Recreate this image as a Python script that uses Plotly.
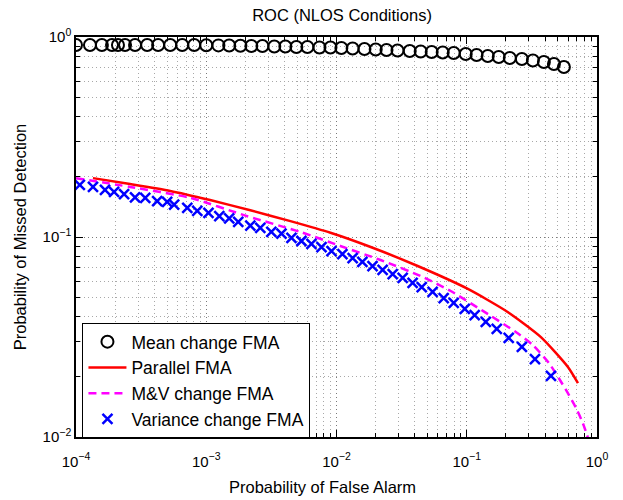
import plotly.graph_objects as go

# ---- data ----
mean_pfa = [1.00e-4, 1.28e-4, 1.58e-4, 1.89e-4, 2.10e-4, 2.38e-4, 2.84e-4, 3.52e-4, 4.27e-4,
            5.29e-4, 6.54e-4, 8.08e-4, 1.00e-3, 1.24e-3, 1.50e-3, 1.83e-3, 2.22e-3, 2.70e-3,
            3.33e-3, 4.05e-3, 4.92e-3, 5.98e-3, 7.40e-3, 8.99e-3, 1.09e-2, 1.33e-2, 1.64e-2,
            2.00e-2, 2.42e-2, 2.94e-2, 3.65e-2, 4.43e-2, 5.38e-2, 6.54e-2, 7.94e-2, 9.82e-2,
            0.119, 0.145, 0.176, 0.214, 0.265, 0.322, 0.391, 0.467, 0.557]
mean_pmd = [0.912, 0.912, 0.912, 0.912, 0.912, 0.912, 0.912, 0.912, 0.912,
            0.912, 0.912, 0.912, 0.910, 0.908, 0.906, 0.904, 0.901, 0.901,
            0.897, 0.897, 0.891, 0.891, 0.886, 0.886, 0.881, 0.876, 0.871,
            0.866, 0.861, 0.856, 0.851, 0.846, 0.841, 0.837, 0.832, 0.822,
            0.813, 0.804, 0.794, 0.785, 0.776, 0.763, 0.750, 0.733, 0.708]

par_pfa = [1.35e-4, 2.60e-4, 5.29e-4, 1.07e-3, 2.18e-3, 4.43e-3, 8.99e-3, 1.83e-2,
           4.20e-2, 0.102, 0.206, 0.371, 0.598, 0.714]
par_pmd = [0.197, 0.184, 0.170, 0.153, 0.136, 0.120, 0.105, 0.0891,
           0.0716, 0.0550, 0.0422, 0.0316, 0.0224, 0.0186]

mv_pfa = [1.00e-4, 2.60e-4, 7.53e-4, 2.07e-3, 5.28e-3, 1.07e-2, 2.18e-2, 4.43e-2,
          7.53e-2, 0.133, 0.238, 0.322, 0.428, 0.578, 0.689, 0.780, 0.90]
mv_pmd = [0.197, 0.178, 0.157, 0.127, 0.106, 0.0902, 0.0767, 0.0638,
          0.0537, 0.0427, 0.0335, 0.0288, 0.0234, 0.0172, 0.0140, 0.0117, 0.0089]

var_pfa = [1.07e-4, 1.35e-4, 1.67e-4, 1.96e-4, 2.34e-4, 2.84e-4, 3.40e-4, 4.20e-4, 5.01e-4,
           5.67e-4, 7.15e-4, 8.53e-4, 1.04e-3, 1.26e-3, 1.50e-3, 1.76e-3, 2.18e-3, 2.60e-3,
           3.16e-3, 3.78e-3, 4.51e-3, 5.38e-3, 6.42e-3, 7.67e-3, 9.15e-3, 1.11e-2, 1.33e-2,
           1.58e-2, 1.89e-2, 2.26e-2, 2.70e-2, 3.22e-2, 3.84e-2, 4.51e-2, 5.47e-2, 6.65e-2,
           7.94e-2, 9.66e-2, 0.115, 0.140, 0.170, 0.210, 0.265, 0.334, 0.443]
var_pmd = [0.182, 0.178, 0.172, 0.168, 0.164, 0.158, 0.157, 0.151, 0.150,
           0.145, 0.140, 0.135, 0.132, 0.127, 0.124, 0.119, 0.114, 0.111,
           0.106, 0.104, 0.0989, 0.0955, 0.0923, 0.0891, 0.0851, 0.0822, 0.0785,
           0.0750, 0.0716, 0.0684, 0.0653, 0.0624, 0.0589, 0.0562, 0.0531, 0.0495,
           0.0468, 0.0437, 0.0407, 0.0376, 0.0347, 0.0313, 0.0282, 0.0245, 0.0202]

x_tickvals = [1e-4, 1e-3, 1e-2, 1e-1, 1]
x_ticktext = ["10<sup>−4</sup>", "10<sup>−3</sup>", "10<sup>−2</sup>", "10<sup>−1</sup>", "10<sup>0</sup>"]
y_tickvals = [1e-2, 1e-1, 1]
y_ticktext = ["10<sup>−2</sup>", "10<sup>−1</sup>", "10<sup>0</sup>"]

x_decades = [1e-4, 1e-3, 1e-2, 1e-1]
y_decades = [1e-2, 1e-1]
x_minor = [m * d for d in x_decades for m in range(2, 10)]
y_minor = [m * d for d in y_decades for m in range(2, 10)]

FONT = "Liberation Sans, Arial, Helvetica, sans-serif"

fig = go.Figure()
fig.add_trace(go.Scatter(x=mean_pfa, y=mean_pmd, mode="markers", name="Mean change FMA",
                         marker=dict(symbol="circle-open", size=12, color="black",
                                     line=dict(width=2, color="black"))))
fig.add_trace(go.Scatter(x=par_pfa, y=par_pmd, mode="lines", name="Parallel FMA",
                         line=dict(color="#ff0000", width=2.5, shape="spline", smoothing=0.6)))
fig.add_trace(go.Scatter(x=mv_pfa, y=mv_pmd, mode="lines", name="M&V change FMA",
                         line=dict(color="#ff00ff", width=2.5, dash="8px,5px", shape="spline", smoothing=0.6)))
fig.add_trace(go.Scatter(x=var_pfa, y=var_pmd, mode="markers", name="Variance change FMA",
                         marker=dict(symbol="x-thin", size=10, color="#0000ff",
                                     line=dict(width=2.5, color="#0000ff"))))

def axis_common(minor_vals):
    return dict(
        type="log", showline=True, linecolor="black", linewidth=1.5, mirror="allticks",
        ticks="inside", ticklen=7, tickwidth=1, tickcolor="black",
        showgrid=True, gridcolor="#7a7a7a", griddash="1px,3px", gridwidth=1,
        zeroline=False, tickfont=dict(family=FONT, size=15, color="black"),
        minor=dict(tickmode="array", tickvals=minor_vals, ticks="inside", ticklen=4,
                   tickcolor="black", showgrid=True,
                   gridcolor="#a8a8a8", griddash="1px,3px", gridwidth=1),
    )

fig.update_xaxes(range=[-4, 0], tickvals=x_tickvals, ticktext=x_ticktext,
                 ticklabelstandoff=10, **axis_common(x_minor))
fig.update_yaxes(range=[-2, 0], tickvals=y_tickvals, ticktext=y_ticktext,
                 title=dict(text="Probability of Missed Detection",
                            font=dict(family=FONT, size=16.5, color="black"), standoff=12),
                 **axis_common(y_minor))

fig.add_annotation(text="Probability of False Alarm", xref="paper", yref="paper",
                   x=0.474, y=-0.125, xanchor="center", yanchor="middle", showarrow=False,
                   font=dict(family=FONT, size=16.5, color="black"))

fig.update_layout(
    width=623, height=500,
    margin=dict(l=76, r=26, t=37, b=63),
    paper_bgcolor="white", plot_bgcolor="white",
    font=dict(family=FONT, color="black"),
    title=dict(text="ROC (NLOS Conditions)", x=0.549, xanchor="center", y=0.97, yanchor="middle",
               font=dict(family=FONT, size=16.5, color="black")),
    legend=dict(x=0.012, y=-0.004, xanchor="left", yanchor="bottom",
                bgcolor="white", bordercolor="black", borderwidth=1.2,
                font=dict(family=FONT, size=17.5, color="black"),
                itemwidth=38, tracegroupgap=0),
    showlegend=True,
)

fig.write_html("out.html")
